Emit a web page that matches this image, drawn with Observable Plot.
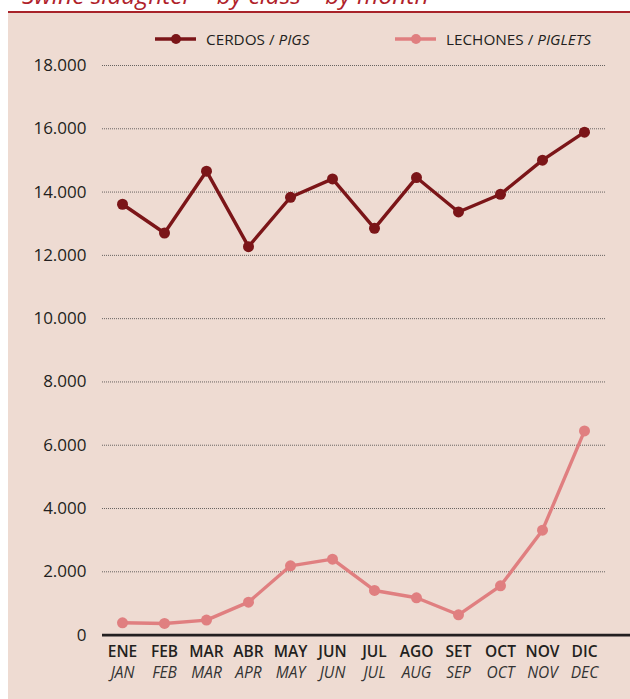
<!DOCTYPE html>
<html>
<head>
<meta charset="utf-8">
<script src="https://cdn.jsdelivr.net/npm/d3@7"></script>
<script src="https://cdn.jsdelivr.net/npm/@observablehq/plot@0.6"></script>
<style>
  html, body { margin: 0; padding: 0; background: #ffffff; }
  body { width: 630px; height: 699px; overflow: hidden; position: relative; font-family: "Open Sans", sans-serif; }
  #title { position: absolute; left: 22px; top: -16.8px; font-size: 24.5px; line-height: 24.5px; font-style: italic; color: #b0222a; white-space: nowrap; }
  #rule { position: absolute; left: 8px; top: 11px; width: 622px; height: 2.2px; background: #a8232a; }
  #panel { position: absolute; left: 8px; top: 13px; width: 622px; height: 686px; background: #eedbd2; }
  #legend { position: relative; height: 41px; }
  .item { position: absolute; top: 18px; display: flex; align-items: center; font-size: 15.3px; line-height: 16px; color: #231f20; white-space: nowrap; }
  .item svg { margin-right: 10px; }
  .item i { font-style: italic; }
  #chart svg { display: block; overflow: visible; }
</style>
</head>
<body>
<div id="title">Swine slaughter – by class – by month</div>
<div id="rule"></div>
<div id="panel">
  <div id="legend"></div>
  <div id="chart"></div>
</div>
<script>
const months   = ["ENE","FEB","MAR","ABR","MAY","JUN","JUL","AGO","SET","OCT","NOV","DIC"];
const monthsEn = ["JAN","FEB","MAR","APR","MAY","JUN","JUL","AUG","SEP","OCT","NOV","DEC"];
const cerdos   = [13615, 12707, 14660, 12274, 13836, 14417, 12855, 14459, 13372, 13931, 15008, 15894];
const lechones = [389, 368, 474, 1042, 2189, 2400, 1410, 1179, 642, 1558, 3316, 6453];
const yTicks   = [0, 2000, 4000, 6000, 8000, 10000, 12000, 14000, 16000, 18000];
const seriesNames = [
  {es: "CERDOS", en: "PIGS", color: "#7b1518"},
  {es: "LECHONES", en: "PIGLETS", color: "#e07f80"}
];

const data = months.map((m, i) => ({month: m, en: monthsEn[i], cerdos: cerdos[i], lechones: lechones[i]}));
const fmt = d3.formatLocale({decimal: ",", thousands: ".", grouping: [3], currency: ["", ""]}).format(",d");

// Legend
const legend = document.getElementById("legend");
const legendLeft = [147, 387];
seriesNames.forEach((s, i) => {
  const div = document.createElement("div");
  div.className = "item";
  div.style.left = legendLeft[i] + "px";
  div.innerHTML = `<svg width="41" height="12"><line x1="0" x2="41" y1="6" y2="6" stroke="${s.color}" stroke-width="3.5"/><circle cx="21" cy="6" r="5" fill="${s.color}"/></svg><span>${s.es} / <i>${s.en}</i></span>`;
  legend.appendChild(div);
});

const chart = Plot.plot({
  width: 622,
  height: 645,
  marginLeft: 92,
  marginRight: 0,
  marginTop: 11,
  marginBottom: 64.4,
  style: {background: "transparent", fontFamily: "Open Sans", fontSize: "17px", color: "#231f20", overflow: "visible"},
  x: {type: "point", domain: months, padding: 0.5, insetRight: 23.1, axis: null},
  y: {domain: [0, 18000], axis: null},
  marks: [
    Plot.ruleY(yTicks.filter(d => d > 0), {stroke: "#444", strokeWidth: 0.8, strokeDasharray: "1,1", insetLeft: 2, insetRight: 25}),
    Plot.axisY(yTicks, {tickSize: 0, tickPadding: 14, tickFormat: fmt, fill: "#231f20", fontSize: 17}),
    Plot.line(data, {x: "month", y: "lechones", stroke: seriesNames[1].color, strokeWidth: 3.4}),
    Plot.dot(data, {x: "month", y: "lechones", r: 5.5, fill: seriesNames[1].color}),
    Plot.line(data, {x: "month", y: "cerdos", stroke: seriesNames[0].color, strokeWidth: 3.4}),
    Plot.dot(data, {x: "month", y: "cerdos", r: 5.5, fill: seriesNames[0].color}),
    Plot.ruleY([0], {stroke: "#231f20", strokeWidth: 2.6, insetLeft: 2}),
    Plot.text(data, {x: "month", frameAnchor: "bottom", dy: 22, text: "month", fontSize: 15.5, fontWeight: 600, fill: "#231f20"}),
    Plot.text(data, {x: "month", frameAnchor: "bottom", dy: 43, text: "en", fontSize: 15.5, fontStyle: "italic", fill: "#333"})
  ]
});
document.getElementById("chart").appendChild(chart);
</script>
</body>
</html>
